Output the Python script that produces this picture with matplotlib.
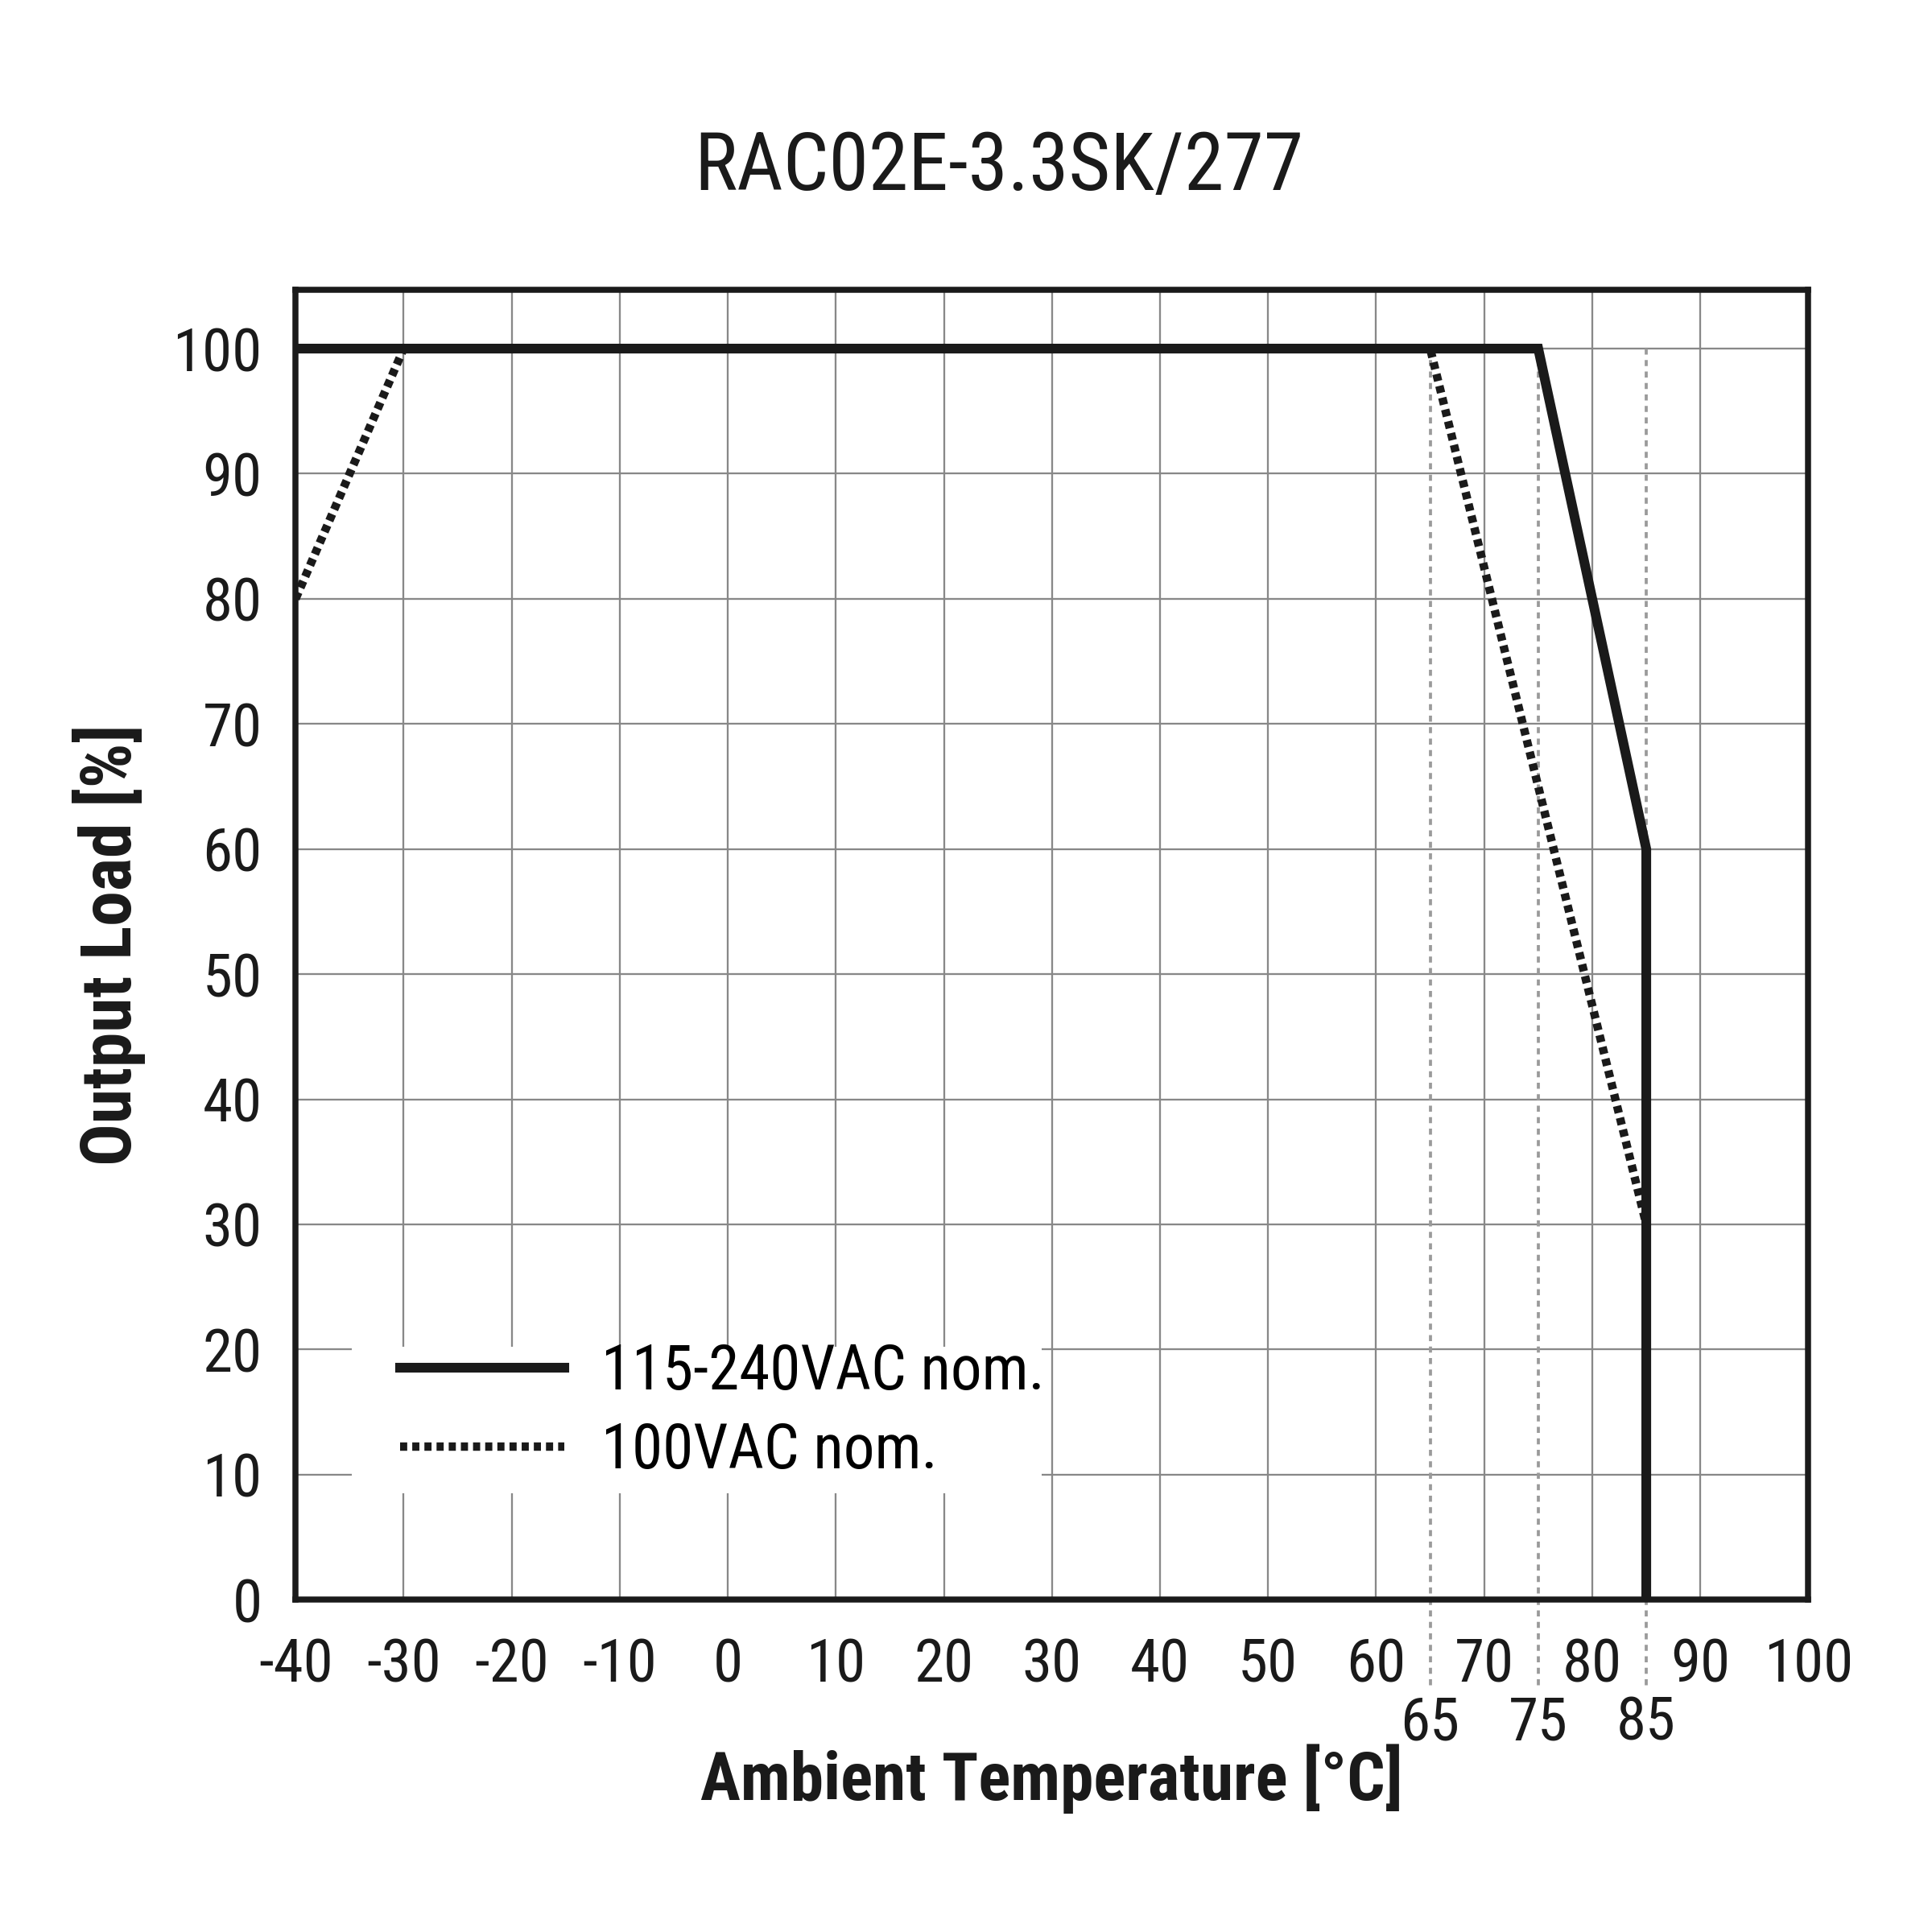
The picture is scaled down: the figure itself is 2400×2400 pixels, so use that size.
import matplotlib
matplotlib.use("Agg")
import matplotlib.pyplot as plt
import matplotlib.transforms as mtransforms
from matplotlib.patches import Rectangle

# ================================
# Data
# ================================
temp_main = [-40, 75, 85, 85]
load_main = [100, 100, 60, 0]

temp_100vac = [-40, -30, 65, 85, 85]
load_100vac = [80, 100, 100, 30, 0]

marker_temps = [65, 75, 85]
x_ticks = list(range(-40, 101, 10))
y_ticks = list(range(0, 101, 10))

label_main = "115-240VAC nom."
label_100vac = "100VAC nom."
title = "RAC02E-3.3SK/277"

# ================================
# Plot
# ================================
plt.rcParams["font.family"] = ["Roboto Condensed", "Liberation Sans", "DejaVu Sans"]
ink = "#1a1a1a"

fig = plt.figure(figsize=(8, 8), dpi=300)
ax = fig.add_axes([0.153, 0.172, 0.783, 0.678])

ax.set_xlim(-40, 100)
ax.set_ylim(0, 104.7)
ax.set_xticks(x_ticks)
ax.set_yticks(y_ticks)
ax.set_xticklabels([str(t) for t in x_ticks], fontsize=18)
ax.set_yticklabels([str(t) for t in y_ticks], fontsize=18)
ax.tick_params(length=0, pad=10, colors=ink)
ax.tick_params(axis="x", pad=11)
ax.grid(True, color="#888888", linewidth=0.55)
ax.set_axisbelow(True)
for s in ax.spines.values():
    s.set_linewidth(1.8)
    s.set_color(ink)

# thin dotted markers at 65 / 75 / 85, running below the axis
for t in marker_temps:
    ax.plot([t, t], [100, -7], color="#9a9a9a", linewidth=0.9,
            linestyle=(0, (2.0, 1.8)), clip_on=False, zorder=1.5)

ax.plot(temp_100vac, load_100vac, color=ink, linewidth=2.5,
        linestyle=(0, (0.85, 0.6)), solid_capstyle="butt",
        label=label_100vac, zorder=3)
ax.plot(temp_main, load_main, color=ink, linewidth=2.9,
        solid_joinstyle="miter", label=label_main, zorder=4)

# second row of x labels for the marker temperatures
trans = mtransforms.blended_transform_factory(ax.transData, ax.transAxes)
for t in marker_temps:
    ax.text(t, -0.073, str(t), transform=trans, ha="center", va="top",
            fontsize=18, color=ink)

# white box behind the legend, hiding the grid
ax.add_patch(Rectangle((0.037, 0.081), 0.456, 0.112, transform=ax.transAxes,
                       facecolor="white", edgecolor="none", zorder=1.2))

handles, labels = ax.get_legend_handles_labels()
leg = ax.legend(handles[::-1], labels[::-1], loc="center left",
                bbox_to_anchor=(0.069, 0.1435), borderaxespad=0,
                borderpad=0, fontsize=18.5, frameon=False,
                handlelength=2.65, handletextpad=0.6, labelspacing=0.3)

ax.set_xlabel("Ambient Temperature [°C]", fontsize=20, fontweight="bold",
              color=ink, labelpad=15)
ax.set_ylabel("Output Load [%]", fontsize=21, fontweight="bold",
              color=ink, labelpad=8)
fig.text(0.517, 0.913, title, ha="center", va="center", fontsize=24,
         color=ink)

fig.savefig("out.png", dpi=300, facecolor="white")
